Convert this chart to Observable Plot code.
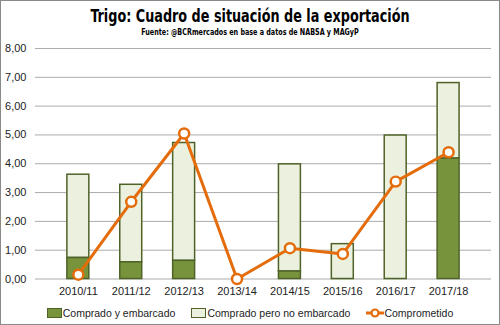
<!DOCTYPE html>
<html><head><meta charset="utf-8">
<script src="https://cdn.jsdelivr.net/npm/d3@7"></script>
<script src="https://cdn.jsdelivr.net/npm/@observablehq/plot@0.6"></script>
<style>
body{margin:0;background:#fff;}
#wrap{position:relative;width:498px;height:323px;border:1px solid #8a8a8a;overflow:hidden;background:#fff;}
#title{position:absolute;top:6px;left:0;width:498px;text-align:center;font-family:"DejaVu Sans Condensed","Liberation Sans",sans-serif;font-weight:bold;font-size:18px;line-height:18px;color:#000;transform:scaleX(0.79);transform-origin:249px 0;white-space:nowrap;}
#sub{position:absolute;top:26px;left:0;width:498px;text-align:center;font-family:"DejaVu Sans Condensed","Liberation Sans",sans-serif;font-weight:bold;font-size:9.5px;line-height:10px;color:#000;transform:scaleX(0.75);transform-origin:249px 0;white-space:nowrap;}
#chart{position:absolute;top:39px;left:-1px;}
#legend{position:absolute;top:306px;left:0;width:498px;display:flex;justify-content:center;gap:16px;font-family:"Liberation Sans",sans-serif;font-size:10.5px;color:#222;}
.li{display:flex;align-items:center;}
.sw{display:inline-block;width:13px;height:8px;border:1.5px solid #4f6228;margin-right:1px;}
</style></head>
<body>
<div id="wrap">
<div id="title">Trigo: Cuadro de situación de la exportación</div>
<div id="sub">Fuente: @BCRmercados en base a datos de NABSA y MAGyP</div>
<div id="chart"></div>
<div id="legend">
<div class="li"><span class="sw" style="background:#77933c"></span>Comprado y embarcado</div>
<div class="li"><span class="sw" style="background:#ebf1de"></span>Comprado pero no embarcado</div>
<div class="li"><svg width="18" height="12"><line x1="0" y1="6" x2="18" y2="6" stroke="#e46c0a" stroke-width="3"/><circle cx="9" cy="6" r="3.5" fill="#fff" stroke="#e46c0a" stroke-width="2.2"/></svg>Comprometido</div>
</div>
</div>
<script>
const campanas = ["2010/11","2011/12","2012/13","2013/14","2014/15","2015/16","2016/17","2017/18"];
const embarcado = [0.73, 0.58, 0.63, 0, 0.26, 0, 0, 4.18];
const total = [3.62, 3.27, 4.72, 0, 3.98, 1.21, 4.98, 6.80];
const comprometido = [0.15, 2.68, 5.05, 0, 1.07, 0.87, 3.38, 4.40];
const yTicks = [0,1,2,3,4,5,6,7,8];

const rows = campanas.map((c,i)=>({c, e:embarcado[i], t:total[i], k:comprometido[i]}));
const fmt = d => d.toFixed(2).replace(".", ",");

const chart = Plot.plot({
  width: 500, height: 262,
  marginTop: 8, marginBottom: 23, marginLeft: 35, marginRight: 8,
  style: {fontFamily: "Liberation Sans, sans-serif", fontSize: "11px", color: "#222", background: "transparent"},
  x: {domain: campanas, padding: 0.59, label: null, tickSize: 0, tickPadding: 8},
  y: {domain: [0, 8], ticks: yTicks, tickFormat: fmt, label: null, tickSize: 0, tickPadding: 9},
  marks: [
    Plot.gridY(yTicks, {stroke: "#ababab", strokeOpacity: 1, strokeWidth: 1}),
    Plot.barY(rows.filter(d => d.t > d.e), {x: "c", y1: "e", y2: "t", fill: "#ebf1de", stroke: "#4f6228", strokeWidth: 1.5}),
    Plot.barY(rows.filter(d => d.e > 0), {x: "c", y1: 0, y2: "e", fill: "#77933c", stroke: "#4f6228", strokeWidth: 1.5}),
    Plot.line(rows, {x: "c", y: "k", stroke: "#e46c0a", strokeWidth: 3}),
    Plot.dot(rows, {x: "c", y: "k", r: 5, fill: "#fff", stroke: "#e46c0a", strokeWidth: 2.5})
  ]
});
document.getElementById("chart").appendChild(chart);
</script>
</body></html>
